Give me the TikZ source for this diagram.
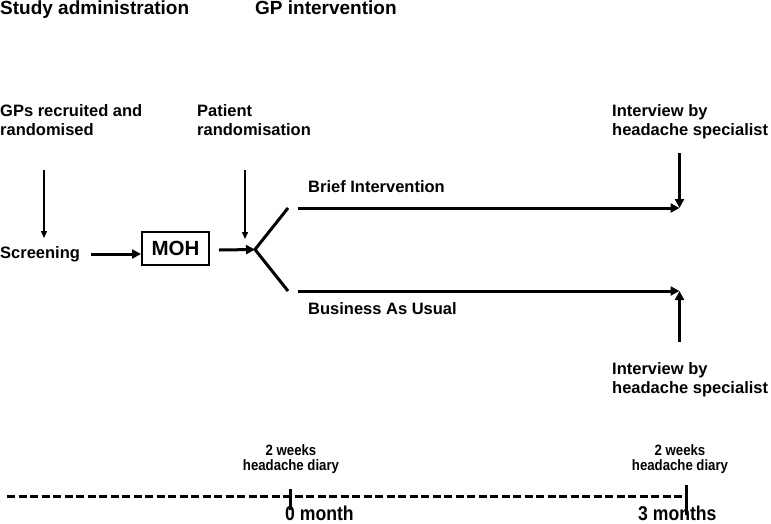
\documentclass[tikz,border=0pt]{standalone}
\usepackage{fontspec}
\setmainfont{Liberation Sans}
\newfontfamily\narrowfont[FakeStretch=0.88]{Liberation Sans}
\usetikzlibrary{arrows.meta}
\begin{document}
\begin{tikzpicture}[x=1pt,y=-1pt,
  hdr/.style={anchor=base west,inner sep=0pt,font=\fontsize{19}{22}\selectfont\bfseries},
  lbl/.style={anchor=base west,inner sep=0pt,align=left,font=\fontsize{16.5}{19}\selectfont\bfseries},
  diary/.style={anchor=base,inner sep=0pt,align=center,font=\narrowfont\fontsize{15}{15}\selectfont\bfseries},
  month/.style={anchor=base west,inner sep=0pt,font=\narrowfont\fontsize{20}{22}\selectfont\bfseries},
  thinarrow/.style={line width=1.4pt,-{Triangle[length=7pt,width=6pt]}},
  thickarrow/.style={line width=3pt,-{Triangle[length=9pt,width=9pt]}},
  thickline/.style={line width=3pt},
  box/.style={draw,line width=2pt,minimum width=67pt,minimum height=33pt,inner sep=0pt,font=\fontsize{20.5}{22}\selectfont\bfseries}
]
\useasboundingbox (0,0) rectangle (771,523);
% headers
\node[hdr] (study) at (0,14) {Study administration};
\node[hdr] (gpint) at (255,14) {GP intervention};
% top labels (base = last line)
\node[lbl] (gps) at (0,135) {GPs recruited and\\randomised};
\node[lbl] (patient) at (197,135) {Patient\\randomisation};
\node[lbl] (intop) at (612,135) {Interview by\\headache specialist};
% screening row
\node[lbl] (screen) at (0,258) {Screening};
\node[box] (moh) at (175.5,248.5) {MOH};
% coordinates
\coordinate (a1s) at (44,170);
\coordinate (a1e) at (44,238);
\coordinate (a2s) at (245,170);
\coordinate (a2e) at (245,239);
\coordinate (s1) at (91,254);
\coordinate (s2) at (moh.west |- s1);
\coordinate (m1) at (219,250);
\coordinate (v) at (255,249.5);
\coordinate (bt) at (288,208);
\coordinate (bb) at (288,291);
\coordinate (u1) at (298,208);
\coordinate (u2) at (679.5,208);
\coordinate (l1) at (298,291);
\coordinate (l2) at (679.5,291);
\coordinate (dtop) at (679.5,153);
\coordinate (dbot) at (679.5,342);
% arrows
\draw[thinarrow] (a1s) -- (a1e);
\draw[thinarrow] (a2s) -- (a2e);
\draw[thickarrow] (s1) -- (s2);
\draw[thickarrow] (m1) -- (v);
\draw[thickline,line join=miter] (bt) -- (v) -- (bb);
\draw[thickarrow] (u1) -- (u2);
\draw[thickarrow] (l1) -- (l2);
\draw[thickarrow] (dtop) -- (u2);
\draw[thickarrow] (dbot) -- (l2);
% arm labels
\node[lbl] (brief) at (308,192) {Brief Intervention};
\node[lbl] (bau) at (308,314) {Business As Usual};
\node[lbl] (inbot) at (612,393) {Interview by\\headache specialist};
% timeline
\node[diary] (d1) at (291,470) {2 weeks\\[0pt]headache diary};
\node[diary] (d2) at (680,470) {2 weeks\\[0pt]headache diary};
\coordinate (t0) at (7,496);
\coordinate (tk1) at (290,496);
\coordinate (tk2) at (686,496);
\draw[thickline,dash pattern=on 8pt off 3.5pt] (t0) -- (tk2);
\draw[thickline] ([yshift=-14pt]tk1) -- ([yshift=7pt]tk1);
\draw[thickline] ([yshift=-19pt]tk2) -- ([yshift=11pt]tk2);
\node[month] (m0) at (285,520) {0 month};
\node[month] (m3) at (638,520) {3 months};
\end{tikzpicture}
\end{document}
